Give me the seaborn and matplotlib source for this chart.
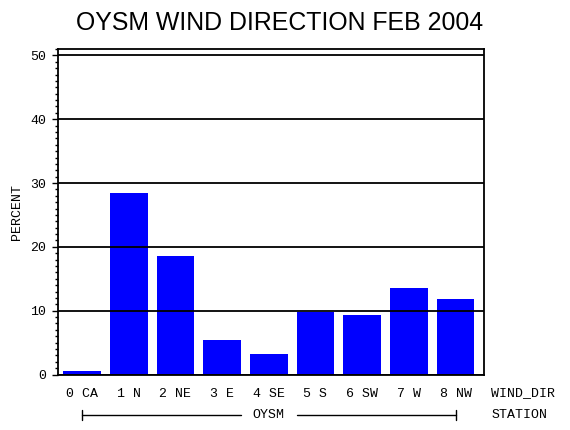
import matplotlib
matplotlib.use('Agg')
import matplotlib.pyplot as plt
import matplotlib.transforms as mtransforms
import seaborn as sns
from matplotlib.ticker import MultipleLocator

# wind direction categories and percent of observations
wind_dir = ['0 CA', '1 N', '2 NE', '3 E', '4 SE', '5 S', '6 SW', '7 W', '8 NW']
percent = [0.5, 28.4, 18.5, 5.4, 3.2, 9.8, 9.3, 13.5, 11.9]
station = 'OYSM'
title = 'OYSM WIND DIRECTION FEB 2004'

sns.set_style('white')
plt.rcParams['font.family'] = ['Liberation Mono', 'DejaVu Sans Mono']
plt.rcParams['text.color'] = 'black'
plt.rcParams['axes.labelcolor'] = 'black'
plt.rcParams['xtick.color'] = 'black'
plt.rcParams['ytick.color'] = 'black'

fig = plt.figure(figsize=(5.7, 4.3), dpi=100)
ax = fig.add_axes([58/570, 1 - 374.5/430, (484 - 58)/570, (374.5 - 49)/430])

sns.barplot(x=wind_dir, y=percent, color='#0000ff', saturation=1, width=0.81,
            ax=ax, zorder=2, linewidth=0)

ax.set_xlim(-0.515, 8.61)
ax.set_ylim(0, 51)
ax.yaxis.set_major_locator(MultipleLocator(10))
ax.yaxis.set_minor_locator(MultipleLocator(1))
ax.yaxis.grid(True, color='black', linewidth=1.3, zorder=3)
ax.set_axisbelow(False)
for s in ax.spines.values():
    s.set_color('black')
    s.set_linewidth(1.3)
    s.set_visible(True)

ax.tick_params(axis='y', which='major', direction='out', length=4.5, width=1,
               labelsize=9.5, pad=4, left=True)
ax.tick_params(axis='y', which='minor', direction='out', length=2.2, width=1, left=True)
ax.tick_params(axis='x', length=0, labelsize=9.5, pad=10)
ax.set_xlabel('')
ax.set_ylabel('PERCENT', fontsize=9.5, labelpad=5)

# right-side row labels
ax.text(1.017, -0.057, 'WIND_DIR', transform=ax.transAxes, fontsize=9.5,
        va='center', ha='left')
ax.text(1.017, -0.124, 'STATION', transform=ax.transAxes, fontsize=9.5,
        va='center', ha='left')

# station bracket spanning the categories
trans = mtransforms.blended_transform_factory(ax.transData, ax.transAxes)
yb = -0.124
n = len(wind_dir)
mid = (n - 1) / 2
ax.text(mid, yb, station, transform=trans, fontsize=9.5, ha='center', va='center')
gap = 0.6
ax.plot([0, mid - gap], [yb, yb], color='black', lw=1, transform=trans, clip_on=False)
ax.plot([mid + gap, n - 1], [yb, yb], color='black', lw=1, transform=trans, clip_on=False)
for xe in [0, n - 1]:
    ax.plot([xe, xe], [yb - 0.015, yb + 0.015], color='black', lw=1,
            transform=trans, clip_on=False)

fig.text(0.491, 0.946, title, ha='center', va='center', fontsize=17.9,
         family='Liberation Sans', color='black')

fig.savefig('out.png', dpi=100)
